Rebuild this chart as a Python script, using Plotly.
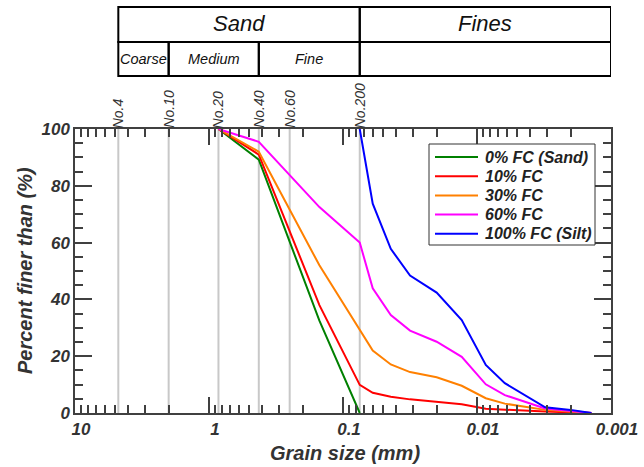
import math
import plotly.graph_objects as go

# ---- data ----
sieve_names = ["No.4", "No.10", "No.20", "No.40", "No.60", "No.200"]
sieve_sizes = [4.75, 2.0, 0.85, 0.425, 0.25, 0.075]

d_sand = [0.85, 0.425, 0.15, 0.075]
p_sand = [100, 89.2, 32.5, 0]

d_mix = [0.85, 0.425, 0.15, 0.075, 0.06, 0.044, 0.0316, 0.02, 0.013, 0.0086, 0.0062, 0.0031, 0.0014]
p_fc10 = [100, 91.0, 38.0, 9.9, 7.1, 5.7, 4.8, 4.0, 3.1, 1.5, 1.1, 0.5, 0]
p_fc30 = [100, 92.0, 52.0, 29.5, 22.0, 17.1, 14.4, 12.6, 9.6, 5.2, 3.3, 1.1, 0]
p_fc60 = [100, 95.5, 72.5, 60.0, 43.9, 34.5, 29.0, 25.1, 19.8, 10.1, 6.3, 1.6, 0]

d_silt = [0.075, 0.06, 0.044, 0.0316, 0.02, 0.013, 0.0086, 0.0062, 0.0031, 0.002, 0.0014]
p_silt = [100, 73.7, 57.8, 48.4, 42.4, 32.7, 16.9, 10.5, 2.0, 1.1, 0]

series_names = ["0% FC (Sand)", "10% FC", "30% FC", "60% FC", "100% FC (Silt)"]
series_colors = ["#008000", "#ff0000", "#ff8000", "#ff00ff", "#0000ff"]

x_tickvals = [10, 1, 0.1, 0.01, 0.001]
x_ticktext = ["10", "1", "0.1", "0.01", "0.001"]
y_tickvals = [0, 20, 40, 60, 80, 100]

# classification table: (label, left size, right size)
table_top = [("Sand", 4.75, 0.075), ("Fines", 0.075, 0.001)]
table_sub = [("Coarse", 4.75, 2.0), ("Medium", 2.0, 0.425), ("Fine", 0.425, 0.075)]

FONT = "Liberation Sans, Arial, sans-serif"
AX = "#404040"
TXT = "#333333"

# plot area in pixels (for converting layout positions to paper units)
PL, PR, PT, PB = 75, 611, 129, 413
W, H = 644, 467


def px(xp):
    return (xp - PL) / (PR - PL)


def py(yp):
    return (PB - yp) / (PB - PT)


fig = go.Figure()

# sieve reference lines
for s in sieve_sizes:
    fig.add_trace(go.Scatter(x=[s, s], y=[0, 100], mode="lines",
                             line=dict(color="#c8c8c8", width=2),
                             showlegend=False, hoverinfo="skip"))

data = [(d_sand, p_sand), (d_mix, p_fc10), (d_mix, p_fc30), (d_mix, p_fc60), (d_silt, p_silt)]
for (dx, pv), name, col in zip(data, series_names, series_colors):
    fig.add_trace(go.Scatter(x=dx, y=pv, mode="lines", name=name,
                             line=dict(color=col, width=2), showlegend=False))

minor_x = [m * 10 ** e for e in range(-3, 1) for m in range(2, 10)]
tickfont = dict(family=FONT, size=17, weight="bold", style="italic", color=TXT)

fig.update_layout(
    width=W, height=H, autosize=False,
    margin=dict(l=PL, r=W - PR, t=PT, b=H - PB, autoexpand=False),
    paper_bgcolor="white", plot_bgcolor="white",
    font=dict(family=FONT, color=TXT),
    showlegend=False,
    xaxis=dict(type="log", range=[1, -3], showgrid=False, zeroline=False, automargin=False,
               showline=True, linecolor=AX, linewidth=1.5, mirror="allticks",
               ticks="inside", ticklen=16, tickwidth=1.5, tickcolor=AX,
               tickmode="array", tickvals=x_tickvals, ticktext=x_ticktext,
               ticklabelshift=-6, tickfont=tickfont,
               minor=dict(tickvals=minor_x, ticks="inside", ticklen=8, tickwidth=1.5,
                          tickcolor=AX, showgrid=False)),
    yaxis=dict(range=[0, 100], showgrid=False, zeroline=False, automargin=False,
               showline=True, linecolor=AX, linewidth=1.5, mirror="allticks",
               ticks="inside", ticklen=17, tickwidth=1.5, tickcolor=AX,
               tickmode="array", tickvals=y_tickvals, tickfont=tickfont,
               minor=dict(dtick=5, ticks="inside", ticklen=8, tickwidth=1.5,
                          tickcolor=AX, showgrid=False)),
)

# axis titles
title_font = dict(family=FONT, size=20, weight="bold", style="italic", color=TXT)
fig.add_annotation(text="Grain size (mm)", xref="paper", yref="paper", x=px(345), y=py(453),
                   xanchor="center", yanchor="middle", showarrow=False, font=title_font)
fig.add_annotation(text="Percent finer than (%)", xref="paper", yref="paper",
                   x=px(25), y=py(271), xanchor="center", yanchor="middle",
                   textangle=-90, showarrow=False, font=title_font)

# sieve labels above the plot
for nm, s in zip(sieve_names, sieve_sizes):
    fig.add_annotation(text=nm, xref="x", yref="paper", x=math.log10(s), y=1.0,
                       xanchor="center", yanchor="bottom", textangle=-90, showarrow=False,
                       borderpad=0,
                       font=dict(family=FONT, size=14, style="italic", color=TXT))

# classification table
y_top, y_mid, y_bot = py(7), py(42), py(76)
for lab, a, b in table_top:
    fig.add_shape(type="rect", xref="x", yref="paper", x0=a, x1=b, y0=y_mid, y1=y_top,
                  line=dict(color="black", width=2))
    fig.add_annotation(text=lab, xref="x", yref="paper",
                       x=(math.log10(a) + math.log10(b)) / 2, y=py(24),
                       xanchor="center", yanchor="middle", showarrow=False,
                       font=dict(family=FONT, size=22, style="italic", color="#111111"))
fig.add_shape(type="rect", xref="x", yref="paper", x0=0.075, x1=0.001, y0=y_bot, y1=y_mid,
              line=dict(color="black", width=2))
for lab, a, b in table_sub:
    fig.add_shape(type="rect", xref="x", yref="paper", x0=a, x1=b, y0=y_bot, y1=y_mid,
                  line=dict(color="black", width=2))
    fig.add_annotation(text=lab, xref="x", yref="paper",
                       x=(math.log10(a) + math.log10(b)) / 2, y=py(59),
                       xanchor="center", yanchor="middle", showarrow=False,
                       font=dict(family=FONT, size=14.5, style="italic", color="#111111"))

# legend (box, sample lines, labels)
LG_L, LG_T, LG_R, LG_B = 429, 144, 595, 245
fig.add_shape(type="rect", xref="paper", yref="paper", x0=px(LG_L), x1=px(LG_R),
              y0=py(LG_B), y1=py(LG_T), line=dict(color="#333333", width=1),
              fillcolor="white", layer="above")
for i, (name, col) in enumerate(zip(series_names, series_colors)):
    yc = 157 + 19.2 * i
    fig.add_shape(type="line", xref="paper", yref="paper", x0=px(435), x1=px(478),
                  y0=py(yc), y1=py(yc), line=dict(color=col, width=2), layer="above")
    fig.add_annotation(text=name, xref="paper", yref="paper", x=px(483), y=py(yc),
                       xanchor="left", yanchor="middle", showarrow=False,
                       font=dict(family=FONT, size=16, weight="bold", style="italic",
                                 color="#222222"))

fig.write_html("out.html")
